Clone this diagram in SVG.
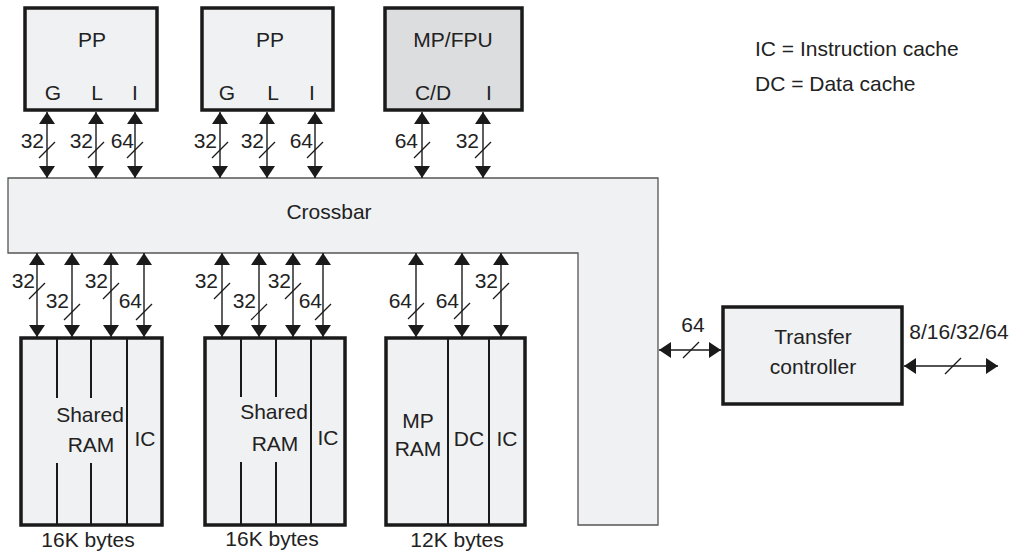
<svg xmlns="http://www.w3.org/2000/svg" width="1018" height="554" viewBox="0 0 1018 554">
<defs>
<marker id="ah" viewBox="0 0 12 16" refX="12" refY="8" markerWidth="12" markerHeight="16" markerUnits="userSpaceOnUse" orient="auto-start-reverse">
<path d="M0,0 L12,8 L0,16 Z" fill="#1a1a1a"/>
</marker>
</defs>
<style>
text{font-family:"Liberation Sans",Arial,sans-serif;font-size:21px;fill:#222}
.m{text-anchor:middle}
.e{text-anchor:end}
.box{fill:#f0f1f3;stroke:#1a1a1a;stroke-width:3.5}
.dark{fill:#dcdddf}
.div{stroke:#1a1a1a;stroke-width:2;fill:none}
.bus{stroke:#1a1a1a;stroke-width:1.4;fill:none;marker-start:url(#ah);marker-end:url(#ah)}
.sl{stroke:#1a1a1a;stroke-width:1.2;fill:none}
</style>
<rect width="1018" height="554" fill="#fff"/>

<g id="crossbar">
<path d="M8,178 H658 V525 H578 V253 H8 Z" fill="#f0f1f3" stroke="#555" stroke-width="1.3"/>
<text class="m" x="329" y="219">Crossbar</text>
</g>

<g id="pp1">
<rect class="box" x="25" y="8" width="132" height="102"/>
<text class="m" x="92" y="47">PP</text>
<text class="m" x="53" y="100">G</text>
<text class="m" x="97" y="100">L</text>
<text class="m" x="135" y="100">I</text>
</g>
<g id="pp2">
<rect class="box" x="202" y="8" width="131" height="102"/>
<text class="m" x="270" y="47">PP</text>
<text class="m" x="227" y="100">G</text>
<text class="m" x="273" y="100">L</text>
<text class="m" x="312" y="100">I</text>
</g>
<g id="mpfpu">
<rect class="box dark" x="385" y="8" width="137" height="102"/>
<text class="m" x="453" y="47">MP/FPU</text>
<text class="m" x="433" y="100">C/D</text>
<text class="m" x="489" y="100">I</text>
</g>

<g id="legend">
<text x="755" y="56">IC = Instruction cache</text>
<text x="755" y="91">DC = Data cache</text>
</g>

<g id="ram1">
<rect class="box" x="21" y="338" width="141" height="187"/>
<path class="div" d="M57,338 V398 M57,463 V525 M91,338 V398 M91,463 V525 M127,338 V525"/>
<text class="m" x="90" y="422">Shared</text>
<text class="m" x="91" y="452">RAM</text>
<text class="m" x="145" y="446">IC</text>
<text class="m" x="88" y="547">16K bytes</text>
</g>
<g id="ram2">
<rect class="box" x="205" y="338" width="140" height="187"/>
<path class="div" d="M241,338 V397 M241,462 V525 M276,338 V397 M276,462 V525 M311,338 V525"/>
<text class="m" x="274" y="419">Shared</text>
<text class="m" x="275" y="451">RAM</text>
<text class="m" x="328" y="445">IC</text>
<text class="m" x="272" y="546">16K bytes</text>
</g>
<g id="ram3">
<rect class="box" x="386" y="338" width="139" height="187"/>
<path class="div" d="M448,338 V525 M489,338 V525"/>
<text class="m" x="418" y="428">MP</text>
<text class="m" x="418" y="456">RAM</text>
<text class="m" x="469" y="446">DC</text>
<text class="m" x="507" y="446">IC</text>
<text class="m" x="457" y="547">12K bytes</text>
</g>

<g id="transfer">
<rect class="box" x="723" y="307" width="179" height="97"/>
<text class="m" x="813" y="344">Transfer</text>
<text class="m" x="813" y="374">controller</text>
</g>

<g id="connectors">
<!-- top buses -->
<path class="bus" d="M47,112 V178"/><path class="sl" d="M39,158 L55,142"/><text class="e" x="44" y="148">32</text>
<path class="bus" d="M96,112 V178"/><path class="sl" d="M88,158 L104,142"/><text class="e" x="93" y="148">32</text>
<path class="bus" d="M135,112 V178"/><path class="sl" d="M127,158 L143,142"/><text class="e" x="134" y="148">64</text>
<path class="bus" d="M220,112 V178"/><path class="sl" d="M212,158 L228,142"/><text class="e" x="217" y="148">32</text>
<path class="bus" d="M267,112 V178"/><path class="sl" d="M259,158 L275,142"/><text class="e" x="264" y="148">32</text>
<path class="bus" d="M315,112 V178"/><path class="sl" d="M307,158 L323,142"/><text class="e" x="313" y="148">64</text>
<path class="bus" d="M422,112 V178"/><path class="sl" d="M414,158 L430,142"/><text class="e" x="418" y="148">64</text>
<path class="bus" d="M483,112 V178"/><path class="sl" d="M475,158 L491,142"/><text class="e" x="479" y="148">32</text>
<!-- bottom buses -->
<path class="bus" d="M37,253 V337"/><path class="sl" d="M29,299 L45,283"/><text class="e" x="35" y="288">32</text>
<path class="bus" d="M72,253 V337"/><path class="sl" d="M64,320 L80,304"/><text class="e" x="69" y="308">32</text>
<path class="bus" d="M111,253 V337"/><path class="sl" d="M103,299 L119,283"/><text class="e" x="108" y="288">32</text>
<path class="bus" d="M144,253 V337"/><path class="sl" d="M136,320 L152,304"/><text class="e" x="142" y="308">64</text>
<path class="bus" d="M222,253 V337"/><path class="sl" d="M214,299 L230,283"/><text class="e" x="218" y="288">32</text>
<path class="bus" d="M259,253 V337"/><path class="sl" d="M251,320 L267,304"/><text class="e" x="256" y="308">32</text>
<path class="bus" d="M293,253 V337"/><path class="sl" d="M285,299 L301,283"/><text class="e" x="291" y="288">32</text>
<path class="bus" d="M323,253 V337"/><path class="sl" d="M315,320 L331,304"/><text class="e" x="322" y="308">64</text>
<path class="bus" d="M416,253 V337"/><path class="sl" d="M408,319 L424,303"/><text class="e" x="412" y="308">64</text>
<path class="bus" d="M462,253 V337"/><path class="sl" d="M454,319 L470,303"/><text class="e" x="459" y="308">64</text>
<path class="bus" d="M501,253 V337"/><path class="sl" d="M493,299 L509,283"/><text class="e" x="498" y="288">32</text>
<!-- transfer -->
<path class="bus" d="M659,350 H721"/><path class="sl" d="M683,358 L699,342"/><text class="m" x="693" y="332">64</text>
<path class="bus" d="M904,366 H998"/><path class="sl" d="M945,374 L961,358"/><text class="m" x="959" y="339">8/16/32/64</text>
</g>
</svg>
